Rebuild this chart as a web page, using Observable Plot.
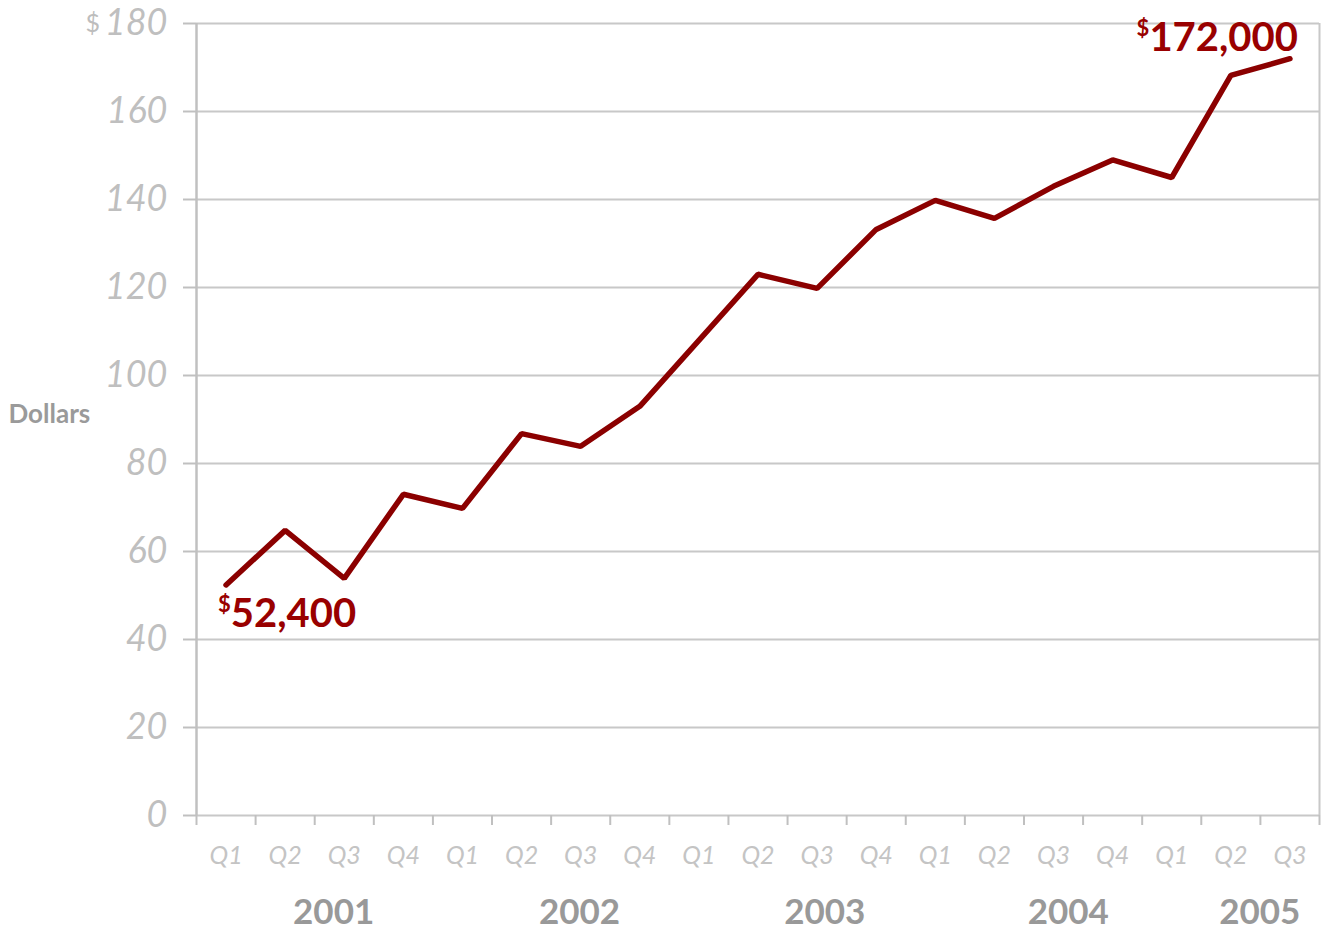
<!DOCTYPE html>
<html>
<head>
<meta charset="utf-8">
<script src="https://cdn.jsdelivr.net/npm/d3@7"></script>
<script src="https://cdn.jsdelivr.net/npm/@observablehq/plot@0.6"></script>
<style>
  html, body { margin: 0; padding: 0; background: #ffffff; }
</style>
</head>
<body>
<div id="chart"></div>
<script>
const quarterLabels = ["Q1","Q2","Q3","Q4","Q1","Q2","Q3","Q4","Q1","Q2","Q3","Q4","Q1","Q2","Q3","Q4","Q1","Q2","Q3"];
const values = [52.4, 64.8, 53.9, 73.0, 69.8, 86.8, 83.9, 93.0, 108.0, 123.0, 119.8, 133.2, 139.8, 135.7, 143.0, 149.0, 145.0, 168.2, 172.0];
const yearLabels = ["2001","2002","2003","2004","2005"];
const yTicks = [0,20,40,60,80,100,120,140,160,180];

// layout: where each year label sits along the quarter axis
const yearLabelAt = [2.32, 6.48, 10.63, 14.75, 17.99];

const data = values.map((v, i) => ({i: i + 0.5, v, q: quarterLabels[i]}));
const fmt = v => "$" + d3.format(",")(Math.round(v * 1000));
const first = data[0], last = data[data.length - 1];

const grid = "#c8c8c8";
const chart = Plot.plot({
  width: 1322,
  height: 933,
  marginLeft: 196,
  marginRight: 3,
  marginTop: 23,
  marginBottom: 118,
  style: {background: "#ffffff", fontFamily: "Lato, 'Open Sans', sans-serif", overflow: "visible"},
  x: {domain: [0, 19], axis: null},
  y: {domain: [0, 180], axis: null},
  marks: [
    Plot.ruleY(yTicks, {stroke: grid, strokeWidth: 2}),
    Plot.ruleX([19], {stroke: grid, strokeWidth: 2}),
    Plot.ruleX([0], {stroke: "#c0c0c0", strokeWidth: 2.5}),
    Plot.axisY({ticks: yTicks, tickSize: 13, tickPadding: 16, stroke: "#c0c0c0", strokeWidth: 2,
      fill: "#bfbfbf", fontSize: 36, fontStyle: "italic", fontWeight: 400, label: null, tickFormat: d => String(d)}),
    Plot.axisX({ticks: d3.range(0, 20), tickSize: 10, stroke: "#c0c0c0", strokeWidth: 2, tickFormat: () => "", label: null}),
    Plot.text(data, {x: "i", frameAnchor: "bottom", dy: 48, text: "q", fontSize: 25, fontStyle: "italic",
      fontWeight: 400, fill: "#c4c4c4"}),
    Plot.text(yearLabels, {x: (d, i) => yearLabelAt[i], frameAnchor: "bottom", dy: 108, text: d => d,
      fontSize: 35, fontWeight: "bold", fill: "#999999"}),
    Plot.text(["Dollars"], {frameAnchor: "left", dx: -188, dy: -5, textAnchor: "start", text: d => d,
      fontSize: 26, fontWeight: "bold", fill: "#9a9a9a", letterSpacing: 0.6}),
    Plot.text(["$"], {frameAnchor: "top-left", dx: -111, dy: -9, text: d => d, fontSize: 25, fill: "#bdbdbd"}),
    Plot.line(data, {x: "i", y: "v", stroke: "#8b0000", strokeWidth: 5.5, strokeLinecap: "round", strokeLinejoin: "miter"}),
    Plot.text([first], {x: "i", y: "v", text: d => fmt(d.v), textAnchor: "start", lineAnchor: "bottom",
      dx: -8, dy: 42, fontSize: 40, fontWeight: "bold", fill: "#990000"}),
    Plot.text([last], {x: "i", y: "v", text: d => fmt(d.v), textAnchor: "end", lineAnchor: "bottom",
      dx: 8, dy: -8, fontSize: 40, fontWeight: "bold", fill: "#990000"})
  ]
});

// turn the leading "$" of the value labels into a small superscript
d3.select(chart).selectAll("text").each(function() {
  const t = this.textContent;
  if (t.length > 1 && t[0] === "$" && this.children.length === 0) {
    const sel = d3.select(this);
    sel.text(null);
    sel.append("tspan").attr("font-size", 22).attr("dy", -15).text("$");
    sel.append("tspan").attr("dy", 15).text(t.slice(1));
  }
});

document.getElementById("chart").appendChild(chart);
</script>
</body>
</html>
